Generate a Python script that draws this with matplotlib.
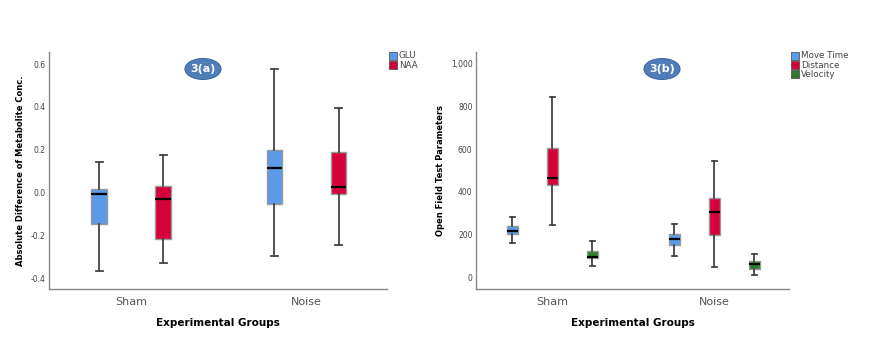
import matplotlib
matplotlib.use("Agg")
import matplotlib.pyplot as plt
from matplotlib.patches import Ellipse

groups = ["Sham", "Noise"]

# panel (a): whisker low, q1, median, q3, whisker high
glu_a = [[-0.365, -0.145, -0.005, 0.02, 0.145],
         [-0.295, -0.05, 0.115, 0.20, 0.575]]
naa_a = [[-0.325, -0.215, -0.03, 0.03, 0.175],
         [-0.245, -0.005, 0.025, 0.19, 0.395]]

# panel (b)
move_b = [[158, 203, 216, 238, 280],
          [99, 151, 179, 202, 250]]
dist_b = [[244, 433, 467, 606, 846],
          [48, 196, 306, 370, 545]]
vel_b = [[50, 90, 95, 123, 171],
         [12, 40, 62, 75, 110]]

blue = "#5A9AE6"
red = "#D6003A"
green = "#2E7D2E"


def stats(rows):
    out = []
    for r in rows:
        out.append({"whislo": r[0], "q1": r[1], "med": r[2], "q3": r[3], "whishi": r[4], "fliers": []})
    return out


def draw(ax, series, colors, offsets, width):
    for s, c, off in zip(series, colors, offsets):
        pos = [i + off for i in range(len(groups))]
        ax.bxp(stats(s), positions=pos, widths=width, patch_artist=True, showfliers=False,
               boxprops=dict(facecolor=c, edgecolor="#9a9a9a", linewidth=1),
               medianprops=dict(color="black", linewidth=1.6),
               whiskerprops=dict(color="#444444", linewidth=1.3),
               capprops=dict(color="#444444", linewidth=1.3),
               capwidths=width * 0.45, manage_ticks=False)


def style(ax, ylabel):
    for sp in ["top", "right"]:
        ax.spines[sp].set_visible(False)
    for sp in ["left", "bottom"]:
        ax.spines[sp].set_color("#888888")
        ax.spines[sp].set_linewidth(1)
    ax.set_xlim(-0.47, 1.46)
    ax.set_xticks(range(len(groups)))
    ax.set_xticklabels(groups, fontsize=8, color="#555555")
    ax.tick_params(axis="x", length=0, pad=6)
    ax.tick_params(axis="y", length=0, labelsize=5.5, labelcolor="#444444", pad=2.5)
    ax.set_xlabel("Experimental Groups", fontsize=7.5, fontweight="bold", labelpad=8)
    ax.set_ylabel(ylabel, fontsize=6, fontweight="bold", labelpad=4)


def badge(ax, text, x, y):
    ax.add_patch(Ellipse((x, y), 0.041, 0.062, transform=ax.figure.transFigure,
                         facecolor="#4F7DB8", edgecolor="#3d6aa3", linewidth=0.8, zorder=5))
    ax.figure.text(x, y, text, ha="center", va="center", color="white",
                   fontsize=8, fontweight="bold", zorder=6)


def legend(fig, labels, colors, x, y0):
    for i, (lab, c) in enumerate(zip(labels, colors)):
        y = y0 - i * 0.027
        fig.patches.append(plt.Rectangle((x, y - 0.011), 0.009, 0.022, transform=fig.transFigure,
                                         facecolor=c, edgecolor="#555555", linewidth=0.6, figure=fig))
        fig.text(x + 0.011, y, lab, fontsize=6.3, color="#444444", va="center", ha="left")


fig = plt.figure(figsize=(8.79, 3.37), dpi=100)
ax1 = fig.add_axes([0.0557, 0.1424, 0.3846, 0.7033])
ax2 = fig.add_axes([0.5415, 0.1424, 0.3561, 0.7033])

draw(ax1, [glu_a, naa_a], [blue, red], [-0.183, 0.183], 0.09)
ax1.set_ylim(-0.448, 0.656)
ax1.set_yticks([-0.4, -0.2, 0.0, 0.2, 0.4, 0.6])
ax1.set_yticklabels(["-0.4", "-0.2", "0.0", "0.2", "0.4", "0.6"])
style(ax1, "Absolute Difference of Metabolite Conc.")

draw(ax2, [move_b, dist_b, vel_b], [blue, red, green], [-0.247, 0.0, 0.247], 0.068)
ax2.set_ylim(-56, 1056)
ax2.set_yticks([0, 200, 400, 600, 800, 1000])
ax2.set_yticklabels(["0", "200", "400", "600", "800", "1,000"])
style(ax2, "Open Field Test Parameters")

badge(ax1, "3(a)", 203 / 879, 1 - 69 / 337)
badge(ax2, "3(b)", 662 / 879, 1 - 69 / 337)

legend(fig, ["GLU", "NAA"], [blue, red], 389 / 879, 1 - 56 / 337)
legend(fig, ["Move Time", "Distance", "Velocity"], [blue, red, green], 791 / 879, 1 - 56 / 337)

fig.savefig("out.png", dpi=100)
